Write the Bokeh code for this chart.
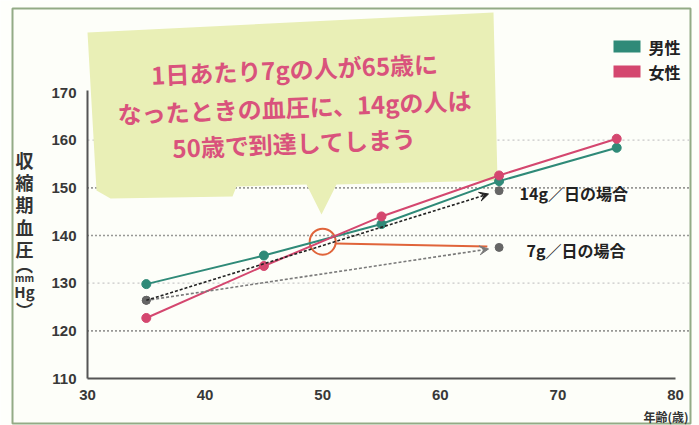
from bokeh.plotting import figure
from bokeh.models import Range1d, Arrow, VeeHead
from bokeh.core.properties import value
from bokeh.embed import file_html
from bokeh.resources import INLINE

# ---------------- data ----------------
ages = [35, 45, 55, 65, 75]
male = [129.8, 135.8, 142.4, 151.4, 158.4]
female = [122.7, 133.6, 144.0, 152.6, 160.3]
salt_ages = [35, 65]
salt14 = [126.4, 149.4]
salt7 = [126.4, 137.5]
salt_labels = ["14g／日の場合", "7g／日の場合"]
cross_age = 50
cross_bp = 138.7
x_ticks = [30, 40, 50, 60, 70, 80]
y_ticks = [110, 120, 130, 140, 150, 160, 170]
major_grid = [120, 140, 150]
minor_grid = [130, 160]
legend_labels = ["男性", "女性"]
callout_lines = ["1日あたり7gの人が65歳に",
                 "なったときの血圧に、14gの人は",
                 "50歳で到達してしまう"]
y_title = ["収", "縮", "期", "血", "圧", "︵", "mm", "Hg", "︶"]
x_title = "年齢(歳)"

TEAL = "#2f8a78"
PINK = "#d4476f"
ORANGE = "#e0643a"
JP = "Noto Sans CJK JP"
NUM = "Liberation Sans"

# frame spans the whole canvas; helpers convert pixel offsets into data space
KX = (675 - 87) / 50.0
KY = (378 - 92) / 60.0
XS = 30 - 87 / KX
XE = XS + 699 / KX
YT = 170 + 92 / KY
YB = YT - 425 / KY


def sx(px):
    return XS + px / KX


def sy(py):
    return YT - py / KY


p = figure(width=699, height=425, x_range=Range1d(XS, XE), y_range=Range1d(YB, YT),
           min_border=0, toolbar_location=None, output_backend="svg",
           x_axis_location=None, y_axis_location=None, outline_line_color=None,
           background_fill_color="#fefffb", border_fill_color="white")
p.grid.visible = False

# outer frame
p.quad(left=sx(12), right=sx(690), top=sy(8), bottom=sy(423),
       fill_color="#fdfef9", line_color="#93ab86", line_width=2)

# grid lines
xr = sx(690)
p.segment(x0=[x_ticks[0]] * len(minor_grid), y0=minor_grid, x1=[xr] * len(minor_grid), y1=minor_grid,
          line_color="#c8c8c8", line_width=1.3, line_dash="2 3")
p.segment(x0=[x_ticks[0]] * len(major_grid), y0=major_grid, x1=[xr] * len(major_grid), y1=major_grid,
          line_color="#333333", line_width=1.6, line_dash="1 3")

# callout shape
cx = [sx(v) for v in (87, 493, 497, 336, 321, 306, 236, 232, 110, 96)]
cy = [sy(v) for v in (32, 12, 180, 184, 214, 184, 186, 196, 198, 190)]
p.patch(cx, cy, fill_color="#e9efb6", line_color=None)

for i, line in enumerate(callout_lines):
    p.text(x=[sx(294)], y=[sy([68, 106, 142][i])], text=[line], angle=0.04,
           text_font=value(JP), text_font_style="bold", text_font_size="24px",
           text_color="#d9527c", text_align="center", text_baseline="middle")

# axes
p.segment(x0=[x_ticks[0]], y0=[y_ticks[0]], x1=[x_ticks[0]], y1=[y_ticks[-1] + 0.4],
          line_color="#555555", line_width=2)
p.segment(x0=[x_ticks[0]], y0=[y_ticks[0]], x1=[x_ticks[-1]], y1=[y_ticks[0]],
          line_color="#555555", line_width=2)
p.text(x=[sx(76)] * len(y_ticks), y=y_ticks, text=[str(v) for v in y_ticks],
       text_font=value(NUM), text_font_style="bold", text_font_size="15px",
       text_color="#383838", text_align="right", text_baseline="middle")
p.text(x=x_ticks, y=[sy(394)] * len(x_ticks), text=[str(v) for v in x_ticks],
       text_font=value(NUM), text_font_style="bold", text_font_size="15px",
       text_color="#383838", text_align="center", text_baseline="middle")
p.text(x=[sx(688)], y=[sy(416)], text=[x_title], text_font=value(JP),
       text_font_style="bold", text_font_size="12px", text_color="#333333",
       text_align="right", text_baseline="middle")

ty = [159, 181, 203, 226, 248, 264, 277, 291, 309]
tsize = ["18px"] * 5 + ["17px", "10px", "15px", "17px"]
for t, yy, fs in zip(y_title, ty, tsize):
    p.text(x=[sx(24)], y=[sy(yy)], text=[t], text_font=value(JP), text_font_style="bold",
           text_font_size=fs, text_color="#333333", text_align="center", text_baseline="middle")

# orange marker of the crossing point
p.scatter(x=[cross_age], y=[cross_bp], size=26, fill_color=None, line_color=ORANGE, line_width=2)
p.segment(x0=[cross_age + 1.1], y0=[cross_bp - 0.4], x1=[salt_ages[1] - 1.0], y1=[salt7[1] + 0.2],
          line_color=ORANGE, line_width=2)

# salt intake dashed arrows
for ys_, col in ((salt7, "#7a7a7a"), (salt14, "#222222")):
    f = 0.97
    xe = salt_ages[0] + (salt_ages[1] - salt_ages[0]) * f
    ye = ys_[0] + (ys_[1] - ys_[0]) * f
    p.add_layout(Arrow(end=VeeHead(size=9, fill_color=col, line_color=col),
                       x_start=salt_ages[0], y_start=ys_[0], x_end=xe, y_end=ye,
                       line_color=col, line_width=1.6, line_dash="3 2"))
p.scatter(x=salt_ages, y=salt14, size=8, fill_color="#666666", line_color="#666666")
p.scatter(x=salt_ages, y=salt7, size=8, fill_color="#666666", line_color="#666666")

# series
p.line(ages, male, line_color=TEAL, line_width=2)
p.scatter(ages, male, size=9, fill_color=TEAL, line_color=TEAL)
p.line(ages, female, line_color=PINK, line_width=2)
p.scatter(ages, female, size=9, fill_color=PINK, line_color=PINK)

# salt labels
p.text(x=[sx(519), sx(526)], y=[sy(192), sy(249)], text=salt_labels, text_font=value(JP),
       text_font_style="bold", text_font_size="16px", text_color="#222222",
       text_align="left", text_baseline="middle")

# legend
for i, (lab, col) in enumerate(zip(legend_labels, [TEAL, PINK])):
    yc = [46, 71][i]
    p.quad(left=sx(613), right=sx(640), top=sy(yc - 6), bottom=sy(yc + 6),
           fill_color=col, line_color=None)
    p.text(x=[sx(648)], y=[sy(yc)], text=[lab], text_font=value(JP), text_font_style="bold",
           text_font_size="16px", text_color="#222222", text_align="left", text_baseline="middle")

open("out.html", "w").write(file_html(p, INLINE))
